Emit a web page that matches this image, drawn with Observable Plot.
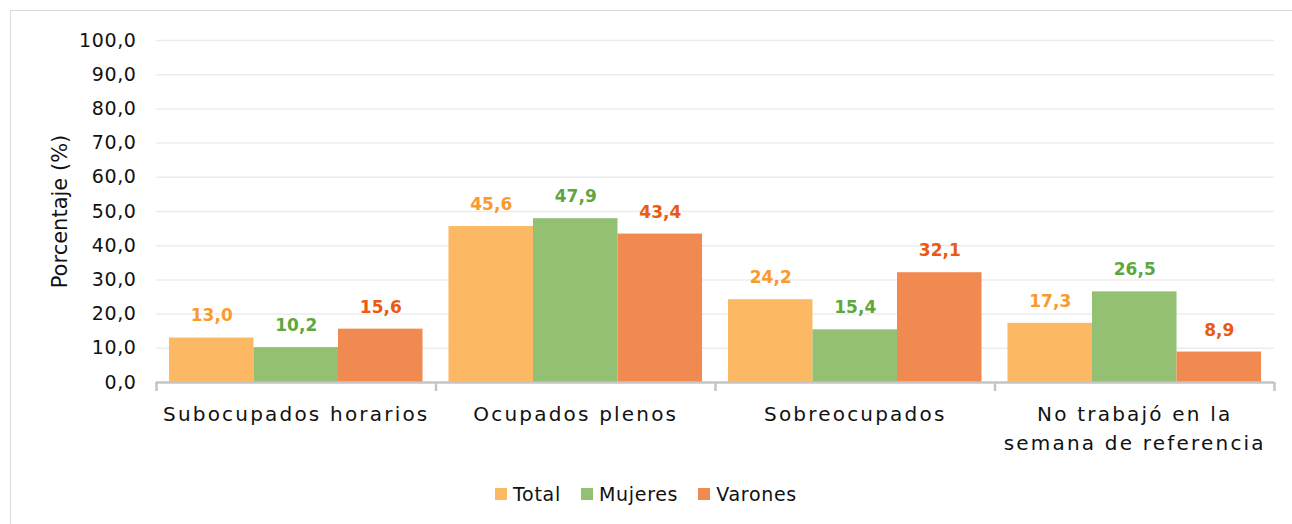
<!DOCTYPE html>
<html>
<head>
<meta charset="utf-8">
<script src="https://cdn.jsdelivr.net/npm/d3@7"></script>
<script src="https://cdn.jsdelivr.net/npm/@observablehq/plot@0.6"></script>
<style>
  html, body { margin: 0; padding: 0; background: #fff; }
  body { width: 1292px; height: 524px; overflow: hidden; position: relative; font-family: "DejaVu Sans", sans-serif; }
  #frame { position: absolute; left: 10px; top: 10px; width: 1300px; height: 530px; border: 1px solid #d9d9d9; box-sizing: border-box; }
  #chart { position: absolute; left: 0; top: 0; }
  #chart g[font-size="20"] text { letter-spacing: 2.2px; }
  #chart g[font-size="19"] text { letter-spacing: 0.6px; }
  #legend { position: absolute; top: 483px; left: 0; width: 1292px; display: flex; justify-content: center; font-size: 19px; color: #111; }
  #legend .item { display: flex; align-items: center; margin: 0 10px; }
  #legend .sw { width: 12px; height: 12px; margin-right: 6px; }
  #legend .lbl { letter-spacing: 0.7px; }
</style>
</head>
<body>
<div id="frame"></div>
<div id="chart"></div>
<div id="legend"></div>
<script>
const categories = ["Subocupados horarios", "Ocupados plenos", "Sobreocupados", "No trabajó en la\nsemana de referencia"];
const series = ["Total", "Mujeres", "Varones"];
const total = [13.0, 45.6, 24.2, 17.3];
const mujeres = [10.2, 47.9, 15.4, 26.5];
const varones = [15.6, 43.4, 32.1, 8.9];
const yTicks = [0, 10, 20, 30, 40, 50, 60, 70, 80, 90, 100];

const barColors = ["#FDB863", "#93C072", "#F08A50"];
const labelColors = ["#F99A2C", "#5EA73C", "#EA5A10"];

const values = [total, mujeres, varones];
const gap = 0.0464;
const bw = (1 - 2 * gap) / series.length;
const rows = [];
categories.forEach((c, i) => {
  series.forEach((s, j) => {
    const x1 = i + gap + j * bw;
    rows.push({cat: c, series: s, si: j, value: values[j][i], x1, x2: x1 + bw, xc: x1 + bw / 2});
  });
});
const fmt = v => v.toFixed(1).replace(".", ",");
const bounds = d3.range(categories.length + 1);

const chart = Plot.plot({
  width: 1292,
  height: 470,
  marginLeft: 156,
  marginRight: 18,
  marginTop: 40,
  marginBottom: 88,
  style: {fontFamily: "DejaVu Sans, sans-serif", background: "transparent", overflow: "visible"},
  x: {domain: [0, categories.length], axis: null},
  y: {domain: [0, 100], axis: null},
  marks: [
    Plot.ruleY(yTicks.filter(t => t > 0), {stroke: "#ececec", strokeWidth: 1.5}),
    Plot.text(yTicks, {x: 0, y: d => d, text: d => fmt(d), textAnchor: "end", dx: -20, fontSize: 19, fill: "#111"}),
    Plot.rectY(rows, {x1: "x1", x2: "x2", y: "value", fill: d => barColors[d.si]}),
    Plot.ruleY([0], {stroke: "#c4c4c4", strokeWidth: 2.5}),
    Plot.ruleX(bounds, {x: d => d, y1: 0, y2: 0, insetBottom: -9, stroke: "#c4c4c4", strokeWidth: 2.5}),
    Plot.text(rows, {x: "xc", y: "value", text: d => fmt(d.value), dy: -22, fill: d => labelColors[d.si], fontSize: 17, fontWeight: "bold"}),
    Plot.text(categories, {x: (d, i) => i + 0.5, y: 0, text: d => d, lineAnchor: "top", dy: 18, fontSize: 20, lineHeight: 1.45, fill: "#111"}),
    Plot.text(["Porcentaje (%)"], {x: 0, y: 50, text: d => d, rotate: -90, dx: -96, fontSize: 21, fill: "#111"})
  ]
});
document.getElementById("chart").appendChild(chart);

const legend = document.getElementById("legend");
series.forEach((s, j) => {
  const item = document.createElement("div");
  item.className = "item";
  const sw = document.createElement("span");
  sw.className = "sw";
  sw.style.background = barColors[j];
  const t = document.createElement("span");
  t.className = "lbl";
  t.textContent = s;
  item.appendChild(sw);
  item.appendChild(t);
  legend.appendChild(item);
});
</script>
</body>
</html>
